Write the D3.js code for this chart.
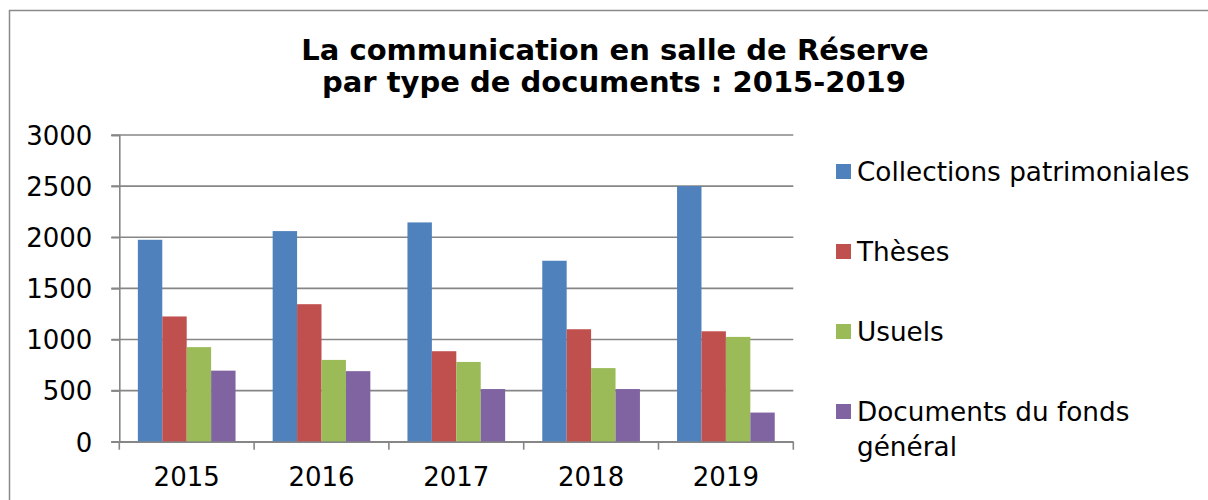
<!DOCTYPE html>
<html>
<head>
<meta charset="utf-8">
<script src="https://cdn.jsdelivr.net/npm/d3@7"></script>
<style>
  body { margin: 0; background: #fff; }
  text { font-family: "DejaVu Sans", Verdana, sans-serif; fill: #000; }
</style>
</head>
<body>
<div class="chart"></div>
<script>
const years = ["2015", "2016", "2017", "2018", "2019"];
const seriesNames = ["Collections patrimoniales", "Thèses", "Usuels", "Documents du fonds général"];
const collections = [1975, 2060, 2145, 1770, 2500];
const theses = [1225, 1345, 885, 1100, 1080];
const usuels = [925, 800, 780, 720, 1025];
const documents = [695, 690, 515, 515, 285];
const yTicks = [0, 500, 1000, 1500, 2000, 2500, 3000];
const colors = ["#4F81BD", "#C0504D", "#9BBB59", "#8064A2"];

const w = 1208;
const h = 500;
const plotLeft = 119.3, plotRight = 793.3, plotTop = 135, plotBottom = 441.7;

const svg = d3.select(".chart")
              .append("svg")
              .attr("width", w)
              .attr("height", h);

// outer frame
svg.append("rect")
   .attr("x", 9.5)
   .attr("y", 10.5)
   .attr("width", w)
   .attr("height", h)
   .attr("fill", "none")
   .attr("stroke", "#8a8a8a")
   .attr("stroke-width", 1.5);

// title
const title = svg.append("text")
   .attr("text-anchor", "middle")
   .style("font-size", "29px")
   .style("font-weight", "bold");
title.append("tspan").attr("x", 615).attr("y", 60).text("La communication en salle de Réserve");
title.append("tspan").attr("x", 614).attr("y", 92).text("par type de documents : 2015-2019");

const series = [collections, theses, usuels, documents];
const data = years.map((y, i) => ({ year: y, values: series.map(s => s[i]) }));

const x0 = d3.scaleBand()
             .domain(years)
             .range([plotLeft, plotRight]);

const x1 = d3.scaleBand()
             .domain(d3.range(seriesNames.length))
             .range([0, x0.bandwidth()])
             .paddingOuter(0.76);

const yScale = d3.scaleLinear()
                 .domain([0, 3000])
                 .range([plotBottom, plotTop]);

// gridlines
svg.append("g")
   .selectAll("line")
   .data(yTicks)
   .enter()
   .append("line")
   .attr("x1", plotLeft - 8)
   .attr("x2", plotRight)
   .attr("y1", d => yScale(d))
   .attr("y2", d => yScale(d))
   .attr("stroke", "#868686")
   .attr("stroke-width", 1.6);

// bars
svg.append("g")
   .selectAll("g")
   .data(data)
   .enter()
   .append("g")
   .attr("transform", d => "translate(" + x0(d.year) + ",0)")
   .selectAll("rect")
   .data(d => d.values)
   .enter()
   .append("rect")
   .attr("x", (d, i) => x1(i))
   .attr("y", d => yScale(d))
   .attr("width", x1.bandwidth())
   .attr("height", d => plotBottom - yScale(d))
   .attr("fill", (d, i) => colors[i]);

// y axis
const yAxis = d3.axisLeft(yScale).tickValues(yTicks).tickFormat(d => d).tickSize(8).tickPadding(19);
const gy = svg.append("g")
   .attr("transform", "translate(" + plotLeft + ",0)")
   .call(yAxis);
gy.select(".domain").attr("stroke", "#868686").attr("stroke-width", 1.6);
gy.selectAll(".tick line").attr("stroke", "#868686").attr("stroke-width", 1.6);
gy.selectAll(".tick text").style("font-size", "26px").attr("dy", "0.36em");

// x axis with ticks at category boundaries
const xAxis = d3.axisBottom(x0).tickSize(0).tickPadding(26);
const gx = svg.append("g")
   .attr("transform", "translate(0," + plotBottom + ")")
   .call(xAxis);
gx.select(".domain").attr("stroke", "#868686").attr("stroke-width", 1.6);
gx.selectAll(".tick text").style("font-size", "26px");
gx.selectAll(".sep")
  .data(years.concat(["end"]))
  .enter()
  .append("line")
  .attr("x1", (d, i) => plotLeft + i * x0.step())
  .attr("x2", (d, i) => plotLeft + i * x0.step())
  .attr("y1", 0)
  .attr("y2", 8)
  .attr("stroke", "#868686")
  .attr("stroke-width", 1.6);

// legend
const legend = svg.append("g")
   .selectAll("g")
   .data(seriesNames)
   .enter()
   .append("g")
   .attr("transform", (d, i) => "translate(836," + (171.5 + i * 80) + ")");

legend.append("rect")
      .attr("x", 0)
      .attr("y", -7.5)
      .attr("width", 15)
      .attr("height", 15)
      .attr("fill", (d, i) => colors[i]);

legend.append("text")
      .attr("x", 21)
      .attr("y", 9.5)
      .style("font-size", "26.3px")
      .each(function(d) {
        const t = d3.select(this);
        const lines = d === "Documents du fonds général" ? ["Documents du fonds", "général"] : [d];
        lines.forEach((l, k) => {
          t.append("tspan").attr("x", 21).attr("dy", k === 0 ? 0 : 35).text(l);
        });
      });
</script>
</body>
</html>
